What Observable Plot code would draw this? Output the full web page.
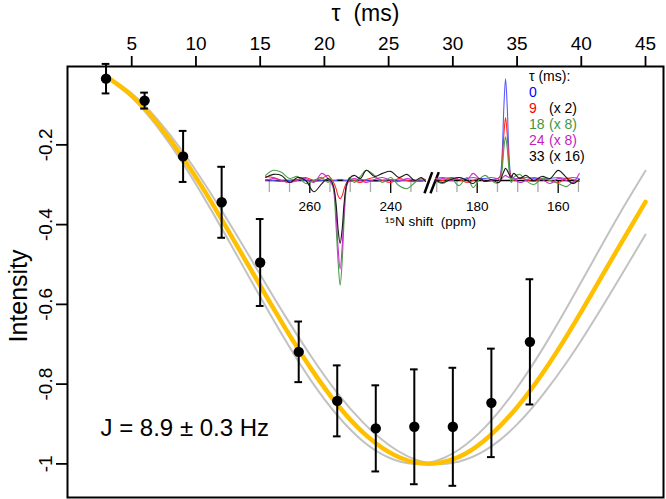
<!DOCTYPE html>
<html><head><meta charset="utf-8">
<script src="https://cdn.jsdelivr.net/npm/d3@7"></script>
<script src="https://cdn.jsdelivr.net/npm/@observablehq/plot@0.6"></script>
<style>
body{margin:0;background:#fff;}
#wrap{position:relative;width:666px;height:499px;font-family:"Liberation Sans",Arial,Helvetica,sans-serif;}
#wrap svg{position:absolute;left:0;top:0;}
#wrap svg.inset{left:255px;top:60px;}
#legend{position:absolute;left:529px;top:68px;font-size:14px;line-height:16px;white-space:pre;color:#000;}
#legend span.c2{position:absolute;left:20px;}
</style></head><body>
<div id="wrap"><div id="legend"></div></div>
<script>
// ---- main data: delay tau (ms), measured intensity, error ----
const tauObs = [3, 6, 9, 12, 15, 18, 21, 24, 27, 30, 33, 36];
const intensityObs = [-0.034, -0.089, -0.229, -0.344, -0.495, -0.719, -0.842, -0.911, -0.907, -0.907, -0.847, -0.694];
const errObs = [0.037, 0.020, 0.064, 0.089, 0.109, 0.076, 0.089, 0.108, 0.144, 0.148, 0.136, 0.157];

// fitted curves (J = 8.9 Hz, and the 8.6 / 9.2 Hz bounds)
const tauFit = [3, 5, 7, 9, 11, 13, 15, 17, 19, 21, 23, 25, 27, 29, 31, 33, 35, 37, 39, 41, 43, 45];
const fitMain = [-0.028,-0.076,-0.146,-0.233,-0.333,-0.442,-0.553,-0.662,-0.763,-0.851,-0.921,-0.970,-0.996,-0.997,-0.974,-0.926,-0.858,-0.772,-0.672,-0.563,-0.452,-0.343];
const fitLow  = [-0.026,-0.071,-0.136,-0.218,-0.314,-0.417,-0.525,-0.632,-0.732,-0.822,-0.896,-0.952,-0.988,-1.000,-0.989,-0.956,-0.901,-0.827,-0.739,-0.639,-0.533,-0.425];
const fitHigh = [-0.030,-0.081,-0.155,-0.247,-0.353,-0.466,-0.581,-0.692,-0.793,-0.878,-0.943,-0.984,-1.000,-0.989,-0.952,-0.891,-0.809,-0.711,-0.601,-0.486,-0.372,-0.265];

const xTicks = [5, 10, 15, 20, 25, 30, 35, 40, 45];
const yTicks = [-0.2, -0.4, -0.6, -0.8, -1];
const yTickLabels = ["-0.2", "-0.4", "-0.6", "-0.8", "-1"];
const xTitle = "τ  (ms)";
const yTitle = "Intensity";
const jLabel = "J = 8.9 ± 0.3 Hz";

// ---- inset spectra: 15N shift (ppm), two segments with an axis break ----
const ppmLeft = [270.9, 269, 267, 265, 263, 261, 259, 257, 255.5, 254.8, 254.1, 253.5, 253, 252.5, 252, 251.5, 250.9, 250.2, 249, 247.5, 246, 244, 242, 240, 238, 236, 234, 232.5, 231.4];
const ppmRight = [190.3, 188.5, 186.5, 184.5, 182.5, 181, 179.5, 178, 176.5, 175, 174.4, 173.9, 173.4, 173.0, 172.6, 172.1, 171.6, 171, 169.5, 168, 166, 164, 162, 160, 158, 156.5, 154.8];
const specNames = ["0", "9", "18", "24", "33"];
const specColors = ["#5a5aff", "#ff2a2a", "#4f9f4f", "#cc2fcc", "#1a1a1a"];
const specLeft = [
  [0.01,0.0,-0.01,0.0,0.01,0.0,-0.01,0.0,0.01,0.0,0.0,0.0,0.01,0.01,0.01,0.0,0.0,-0.01,0.0,0.01,0.0,-0.01,0.0,0.01,0.0,0.0,-0.01,0.0,0.01],
  [0.04,0.03,0.0,-0.02,0.01,0.03,0.0,0.02,0.05,0.02,-0.02,-0.08,-0.15,-0.18,-0.15,-0.08,-0.02,0.01,0.0,-0.02,0.01,0.03,0.0,-0.02,0.02,0.0,-0.01,0.02,0.01],
  [0.05,0.1,0.08,0.02,0.04,-0.03,0.0,0.03,-0.02,0.02,-0.1,-0.45,-0.8,-1.03,-0.8,-0.38,-0.06,0.03,-0.02,0.04,0.1,0.05,-0.02,0.03,-0.05,-0.08,-0.02,0.02,0.0],
  [0.0,0.02,0.0,-0.02,0.0,0.02,-0.02,0.07,0.02,-0.02,-0.08,-0.32,-0.66,-0.87,-0.66,-0.3,-0.05,0.0,0.02,0.0,-0.02,0.01,0.03,0.0,-0.01,0.02,0.0,-0.01,0.01],
  [0.03,0.06,0.05,-0.02,0.03,0.0,-0.11,-0.03,0.02,0.0,-0.06,-0.23,-0.48,-0.62,-0.48,-0.22,-0.04,0.02,0.05,0.02,0.1,0.04,0.07,0.09,0.03,0.06,0.0,0.03,-0.01]
];
const specRight = [
  [0.02,0.03,0.02,0.01,0.02,0.03,0.02,0.02,0.03,0.02,0.04,0.22,0.74,1.0,0.74,0.22,0.04,0.02,0.02,0.03,0.02,0.01,0.02,0.03,0.02,0.03,0.02],
  [0.02,0.0,0.03,0.01,-0.02,0.0,0.02,-0.01,0.0,0.02,0.03,0.14,0.46,0.62,0.46,0.14,0.02,0.0,0.03,0.01,-0.01,0.02,0.0,-0.02,0.02,0.01,-0.01],
  [0.0,-0.03,0.02,-0.05,0.03,-0.07,0.01,0.05,0.0,-0.03,0.0,0.09,0.32,0.43,0.32,0.09,-0.02,0.03,0.06,0.0,-0.04,0.02,0.0,-0.03,-0.06,-0.02,0.0],
  [0.0,0.02,0.0,0.03,0.01,0.07,0.02,-0.01,0.0,0.02,0.0,0.02,0.04,0.05,0.04,0.03,0.05,0.02,-0.02,0.0,0.03,0.01,-0.03,0.02,0.0,-0.02,0.07],
  [0.0,-0.02,0.01,0.03,0.0,-0.03,0.02,-0.01,0.01,-0.02,-0.01,0.04,0.09,0.12,0.1,0.06,0.03,0.07,0.02,0.05,0.0,0.04,0.02,0.1,0.03,-0.03,0.01]
];
const leftDomain = [270.94, 231.4];
const rightDomain = [190.3, 154.74];
const leftMajorTicks = [260, 240];
const rightMajorTicks = [180, 160];
const leftMinorTicks = [270, 265, 255, 250, 245, 235];
const rightMinorTicks = [190, 185, 175, 170, 165, 155];
const breakMarks = [{x1: 231.65, x2: 229.75, y1: -0.125, y2: 0.082}, {x1: 230.17, x2: 228.12, y1: -0.125, y2: 0.082}];
const insetXTitle = "¹⁵N shift  (ppm)";
const legendTitle = "τ (ms):";
const legendScales = ["", "(x 2)", "(x 8)", "(x 8)", "(x 16)"];
const legendScaleColors = ["#000", "#000", "#3f963f", "#c01ec0", "#000"];
const legendNumColors = ["#0000ff", "#ff0000", "#3f963f", "#c01ec0", "#000"];

const FONT = '"Liberation Sans", Arial, Helvetica, sans-serif';

const obs = tauObs.map((t, i) => ({t, v: intensityObs[i], e: errObs[i]}));
const fits = tauFit.map((t, i) => ({t, m: fitMain[i], lo: fitLow[i], hi: fitHigh[i]}));

const main = Plot.plot({
  width: 666, height: 499,
  marginLeft: 67, marginRight: 3, marginTop: 66, marginBottom: 2,
  x: {domain: [0, 46.4]},
  y: {domain: [-1.0843, -0.0035]},
  style: {fontFamily: FONT, background: "white", overflow: "visible", color: "black"},
  marks: [
    Plot.line(fits, {x: "t", y: "lo", stroke: "#c2c2c2", strokeWidth: 2, curve: "natural"}),
    Plot.line(fits, {x: "t", y: "hi", stroke: "#c2c2c2", strokeWidth: 2, curve: "natural"}),
    Plot.line(fits, {x: "t", y: "m", stroke: "#ffc000", strokeWidth: 4.5, curve: "natural"}),
    Plot.ruleX(obs, {x: "t", y1: d => d.v - d.e, y2: d => d.v + d.e, stroke: "black", strokeWidth: 2}),
    Plot.ruleY(obs, {y: d => d.v + d.e, x1: d => d.t - 0.3, x2: d => d.t + 0.3, stroke: "black", strokeWidth: 2}),
    Plot.ruleY(obs, {y: d => d.v - d.e, x1: d => d.t - 0.3, x2: d => d.t + 0.3, stroke: "black", strokeWidth: 2}),
    Plot.dot(obs, {x: "t", y: "v", r: 5.2, fill: "black", stroke: "none"}),
    Plot.frame({stroke: "black", strokeWidth: 2}),
    Plot.axisX({anchor: "top", ticks: xTicks, tickSize: 11, tickPadding: 6, fontSize: 19, strokeWidth: 1.8, label: null}),
    Plot.axisY({anchor: "left", ticks: yTicks, tickSize: 11, tickFormat: () => "", strokeWidth: 1.8, label: null}),
    Plot.text(yTicks, {y: d => d, frameAnchor: "left", dx: -16, rotate: -90, textAnchor: "middle", lineAnchor: "bottom", fontSize: 19, text: (d, i) => yTickLabels[i]}),
    Plot.text([yTitle], {frameAnchor: "left", dx: -41, dy: 14, rotate: -90, textAnchor: "middle", lineAnchor: "bottom", fontSize: 25, text: d => d}),
    Plot.text([xTitle], {frameAnchor: "top", dy: -46, textAnchor: "middle", lineAnchor: "bottom", fontSize: 23, text: d => d}),
    Plot.text([jLabel], {frameAnchor: "bottom-left", dx: 33, dy: -62, textAnchor: "start", lineAnchor: "bottom", fontSize: 24, text: d => d})
  ]
});

function spectrumMarks(ppm, spec) {
  return specNames.map((name, s) =>
    Plot.line(ppm.map((p, i) => ({p, v: spec[s][i]})), {x: "p", y: "v", stroke: specColors[s], strokeWidth: 1.1, curve: "catmull-rom"}));
}

function insetPanel(domain, range, ppm, spec, major, minor, extra) {
  return Plot.plot({
    width: 340, height: 240, margin: 0,
    x: {domain, range, axis: null},
    y: {domain: [0, 1], range: [120, 18.3], axis: null},
    style: {fontFamily: FONT, background: "transparent", overflow: "visible", color: "black"},
    marks: [
      Plot.ruleX(minor, {x: d => d, y1: 0, y2: 0, insetBottom: -12, stroke: "#a8a8a8", strokeWidth: 1.3}),
      Plot.ruleX(major, {x: d => d, y1: 0, y2: 0, insetBottom: -13, stroke: "black", strokeWidth: 1.3}),
      Plot.ruleY([domain], {y: 0, x1: d => d[0], x2: d => d[1], stroke: "black", strokeWidth: 1.4}),
      ...spectrumMarks(ppm, spec),
      Plot.text(major, {x: d => d, y: 0, dy: 30.7, textAnchor: "middle", lineAnchor: "bottom", fontSize: 13.5, text: d => String(d)}),
      ...extra
    ]
  });
}

const insetLeft = insetPanel(leftDomain, [10, 170], ppmLeft, specLeft, leftMajorTicks, leftMinorTicks, [
  Plot.link(breakMarks, {x1: "x1", y1: "y1", x2: "x2", y2: "y2", stroke: "black", strokeWidth: 2.5})
]);
const insetRight = insetPanel(rightDomain, [180, 324], ppmRight, specRight, rightMajorTicks, rightMinorTicks, [
  Plot.text([insetXTitle], {frameAnchor: "top-left", dx: 175, dy: 165.7, textAnchor: "middle", lineAnchor: "bottom", fontSize: 13.5, text: d => d})
]);
for (const p of [insetLeft, insetRight]) p.setAttribute("class", (p.getAttribute("class") || "") + " inset");

const wrap = document.getElementById("wrap");
wrap.insertBefore(main, wrap.firstChild);
wrap.insertBefore(insetLeft, document.getElementById("legend"));
wrap.insertBefore(insetRight, document.getElementById("legend"));

// legend (HTML text)
const leg = document.getElementById("legend");
let html = `<div>${legendTitle}</div>`;
specNames.forEach((n, i) => {
  html += `<div style="position:relative"><span style="color:${legendNumColors[i]}">${n}</span><span class="c2" style="color:${legendScaleColors[i]}">${legendScales[i]}</span></div>`;
});
leg.innerHTML = html;
</script>
</body></html>
